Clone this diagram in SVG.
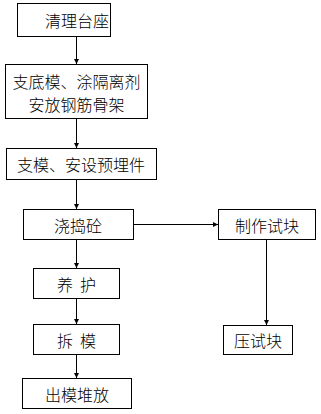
<svg xmlns="http://www.w3.org/2000/svg" width="321" height="414" viewBox="0 0 321 414">
<style>
.box{fill:#fff;stroke:#000;stroke-width:1}
.t{font-family:"Noto Sans CJK SC","Liberation Sans",sans-serif;font-size:16px;font-weight:300;fill:#000;text-anchor:middle;dominant-baseline:central}
.c{stroke:#000;stroke-width:1;fill:none;marker-end:url(#ah)}
</style>
<defs>
<marker id="ah" markerUnits="userSpaceOnUse" markerWidth="6" markerHeight="6" refX="5" refY="3" orient="auto">
<path d="M0,0.5 L5,3 L0,5.5 z" fill="#000"/>
</marker>
</defs>
<rect width="321" height="414" fill="#fff"/>
<g id="connectors">
<line class="c" x1="76.5" y1="36.5" x2="76.5" y2="64"/>
<line class="c" x1="76.5" y1="118.5" x2="76.5" y2="148"/>
<line class="c" x1="76.5" y1="179.5" x2="76.5" y2="209"/>
<line class="c" x1="133.5" y1="224.5" x2="218" y2="224.5"/>
<line class="c" x1="76.5" y1="239.5" x2="76.5" y2="268"/>
<line class="c" x1="76.5" y1="298.5" x2="76.5" y2="324"/>
<line class="c" x1="76.5" y1="354.5" x2="76.5" y2="378"/>
<line class="c" x1="266.5" y1="239.5" x2="266.5" y2="325"/>
</g>
<g id="n1"><rect class="box" x="17.5" y="3.5" width="93" height="33"/><text class="t" x="77" y="20">清理台座</text></g>
<g id="n2"><rect class="box" x="5.5" y="64.5" width="142" height="54"/><text class="t" x="76.5" y="80.5">支底模、涂隔离剂</text><text class="t" x="76.5" y="104">安放钢筋骨架</text></g>
<g id="n3"><rect class="box" x="6.5" y="148.5" width="150" height="31"/><text class="t" x="81" y="164">支模、安设预埋件</text></g>
<g id="n4"><rect class="box" x="23.5" y="209.5" width="110" height="30"/><text class="t" x="78" y="224.5">浇捣砼</text></g>
<g id="n5"><rect class="box" x="33.5" y="268.5" width="86" height="30"/><text class="t" x="76.5" y="283.5" xml:space="preserve">养  护</text></g>
<g id="n6"><rect class="box" x="33.5" y="324.5" width="86" height="30"/><text class="t" x="76.5" y="339.5" xml:space="preserve">拆  模</text></g>
<g id="n7"><rect class="box" x="22.5" y="378.5" width="109" height="30"/><text class="t" x="77" y="393.5">出模堆放</text></g>
<g id="n8"><rect class="box" x="218.5" y="209.5" width="97" height="30"/><text class="t" x="267" y="224.5">制作试块</text></g>
<g id="n9"><rect class="box" x="223.5" y="325.5" width="69" height="29"/><text class="t" x="258" y="340">压试块</text></g>
</svg>
